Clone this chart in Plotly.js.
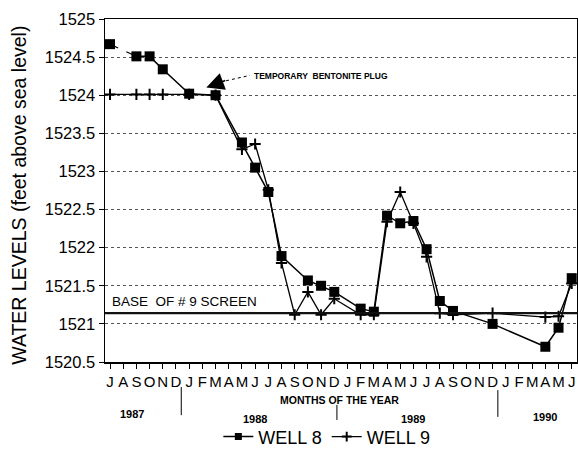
<!DOCTYPE html>
<html>
<head>
<meta charset="utf-8">
<script src="https://cdn.plot.ly/plotly-3.0.1.min.js"></script>
<style>
  html, body { margin: 0; padding: 0; background: #fff; }
  #chart { width: 578px; height: 449px; }
</style>
</head>
<body>
<div id="chart"></div>
<script>
// Month index 0 = July 1987 ... 35 = June 1990
const monthLetters = ['J','A','S','O','N','D','J','F','M','A','M','J',
                      'J','A','S','O','N','D','J','F','M','A','M','J',
                      'J','A','S','O','N','D','J','F','M','A','M','J'];

const well8Months = [0, 2, 3, 4, 6, 8, 10, 11, 12, 13, 15, 16, 17, 19, 20, 21, 22, 23, 24, 25, 26, 29, 33, 34, 35];
const well8Levels = [1524.67, 1524.51, 1524.51, 1524.34, 1524.02, 1524.0, 1523.38, 1523.05, 1522.73, 1521.89,
                     1521.57, 1521.5, 1521.42, 1521.2, 1521.16, 1522.42, 1522.32, 1522.35, 1521.98, 1521.3,
                     1521.17, 1521.0, 1520.7, 1520.95, 1521.6];

const well9Months = [0, 2, 3, 4, 6, 8, 10, 11, 12, 13, 14, 15, 16, 17, 19, 20, 21, 22, 23, 24, 25, 26, 29, 33, 34, 35];
const well9Levels = [1524.01, 1524.01, 1524.01, 1524.01, 1524.01, 1524.0, 1523.29, 1523.36, 1522.76, 1521.8,
                     1521.12, 1521.42, 1521.12, 1521.33, 1521.12, 1521.12, 1522.34, 1522.73, 1522.32, 1521.88,
                     1521.14, 1521.12, 1521.14, 1521.09, 1521.1, 1521.53];

const screenBase = 1521.14;  // base of #9 screen

const years = ['1987', '1988', '1989', '1990'];
const yearCenters = [1.67, 11.0, 22.95, 32.95];
const yearRows = [-0.152, -0.166, -0.166, -0.160];
const yearBreaks = [5.4, 17.2, 29.4];
const yearBreakTop = [-0.073, -0.125, -0.082];
const yearBreakBottom = [-0.155, -0.169, -0.160];

const font = 'Liberation Sans, Arial, Helvetica, sans-serif';

// well 8: first gap drawn dashed, rest solid
const well8Dash = {
    x: well8Months.slice(0, 2),
    y: well8Levels.slice(0, 2),
    mode: 'lines',
    line: { color: 'black', width: 1.2, dash: 'dash' },
    showlegend: false
};

const well8 = {
    x: well8Months.slice(1),
    y: well8Levels.slice(1),
    mode: 'lines',
    line: { color: 'black', width: 1.5 },
    showlegend: false
};

const well8Marks = {
    x: well8Months,
    y: well8Levels,
    mode: 'markers',
    marker: { symbol: 'square', size: 10, color: 'black' },
    showlegend: false
};

const well9 = {
    x: well9Months,
    y: well9Levels,
    mode: 'lines+markers',
    line: { color: 'black', width: 1.3 },
    marker: { symbol: 'cross-thin', size: 8, color: 'black', line: { color: 'black', width: 2 } },
    showlegend: false
};

// legend-only entries with small symbols like the original key
const key8 = {
    x: [null], y: [null], mode: 'lines+markers', name: 'WELL 8',
    line: { color: 'black', width: 1.5 },
    marker: { symbol: 'square', size: 7, color: 'black' }
};
const key9 = {
    x: [null], y: [null], mode: 'lines+markers', name: 'WELL 9',
    line: { color: 'black', width: 1.3 },
    marker: { symbol: 'cross-thin', size: 7, color: 'black', line: { color: 'black', width: 2 } }
};

const shapes = [
    // base of screen line
    { type: 'line', xref: 'paper', x0: 0, x1: 1, yref: 'y', y0: screenBase, y1: screenBase,
      line: { color: '#111', width: 2.2 } },
    // dotted leader to the bentonite plug arrow
    { type: 'line', xref: 'x', yref: 'y', x0: 8.8, y0: 1524.19, x1: 10.6, y1: 1524.26,
      line: { color: 'black', width: 1, dash: 'dot' } }
];
yearBreaks.forEach((b, i) => {
    shapes.push({ type: 'line', xref: 'x', yref: 'paper', x0: b, x1: b,
                  y0: yearBreakTop[i], y1: yearBreakBottom[i], line: { color: 'black', width: 1 } });
});

const annotations = [
    { xref: 'paper', yref: 'paper', x: -0.184, y: 0.485, text: 'WATER LEVELS (feet above sea level)',
      textangle: -90, showarrow: false, xanchor: 'center', yanchor: 'middle',
      font: { family: font, size: 19.5, color: 'black' } },
    { xref: 'x', yref: 'y', x: 0.0, y: 1521.3, xanchor: 'left', yanchor: 'middle', text: 'BASE  OF # 9 SCREEN',
      showarrow: false, font: { family: font, size: 13.5, color: 'black' } },
    { xref: 'x', yref: 'y', x: 10.75, y: 1524.25, xanchor: 'left', yanchor: 'middle',
      text: '<b>TEMPORARY  BENTONITE PLUG</b>',
      showarrow: false, font: { family: font, size: 8.5, color: 'black' } },
    { xref: 'x', yref: 'y', x: 7.3, y: 1524.1, axref: 'x', ayref: 'y', ax: 8.85, ay: 1524.2,
      text: '', showarrow: true, arrowhead: 2, arrowsize: 2.2, arrowwidth: 1.6, arrowcolor: 'black' },
    { xref: 'x', yref: 'paper', x: 17.4, y: -0.111, xanchor: 'center', yanchor: 'middle',
      text: '<b>MONTHS OF THE YEAR</b>',
      showarrow: false, font: { family: font, size: 10.5, color: 'black' } }
];
years.forEach((yr, i) => {
    annotations.push({ xref: 'x', yref: 'paper', x: yearCenters[i], y: yearRows[i],
                       xanchor: 'center', yanchor: 'middle', text: '<b>' + yr + '</b>',
                       showarrow: false, font: { family: font, size: 11, color: 'black' } });
});

const layout = {
    width: 578,
    height: 449,
    margin: { l: 105, r: 1, t: 19, b: 87 },
    paper_bgcolor: 'white',
    plot_bgcolor: 'white',
    font: { family: font, color: 'black' },
    xaxis: {
        range: [-0.38, 35.4],
        tickvals: monthLetters.map((_, i) => i),
        ticktext: monthLetters,
        tickangle: 0,
        automargin: false,
        ticks: 'outside',
        ticklen: 5,
        tickcolor: 'black',
        showgrid: false,
        zeroline: false,
        showline: true,
        linecolor: 'black',
        linewidth: 1.5,
        mirror: true,
        tickfont: { family: font, size: 15, color: 'black' }
    },
    yaxis: {
        range: [1520.5, 1525],
        dtick: 0.5,
        tick0: 1520.5,
        tickformat: '.1~f',
        automargin: false,
        ticks: 'outside',
        ticklen: 5,
        tickcolor: 'black',
        showgrid: true,
        gridcolor: '#555',
        griddash: 'dot',
        gridwidth: 1,
        zeroline: false,
        showline: true,
        linecolor: 'black',
        linewidth: 1.5,
        mirror: true,
        tickfont: { family: font, size: 16.5, color: 'black' }
    },
    showlegend: true,
    legend: {
        orientation: 'h',
        xref: 'paper',
        yref: 'container',
        x: 0.47,
        xanchor: 'center',
        y: 0.027,
        yanchor: 'middle',
        font: { family: font, size: 18, color: 'black' },
        bgcolor: 'rgba(0,0,0,0)'
    },
    shapes: shapes,
    annotations: annotations
};

Plotly.newPlot('chart', [well8Dash, well8, well8Marks, well9, key8, key9], layout, { displayModeBar: false, staticPlot: true });
</script>
</body>
</html>
